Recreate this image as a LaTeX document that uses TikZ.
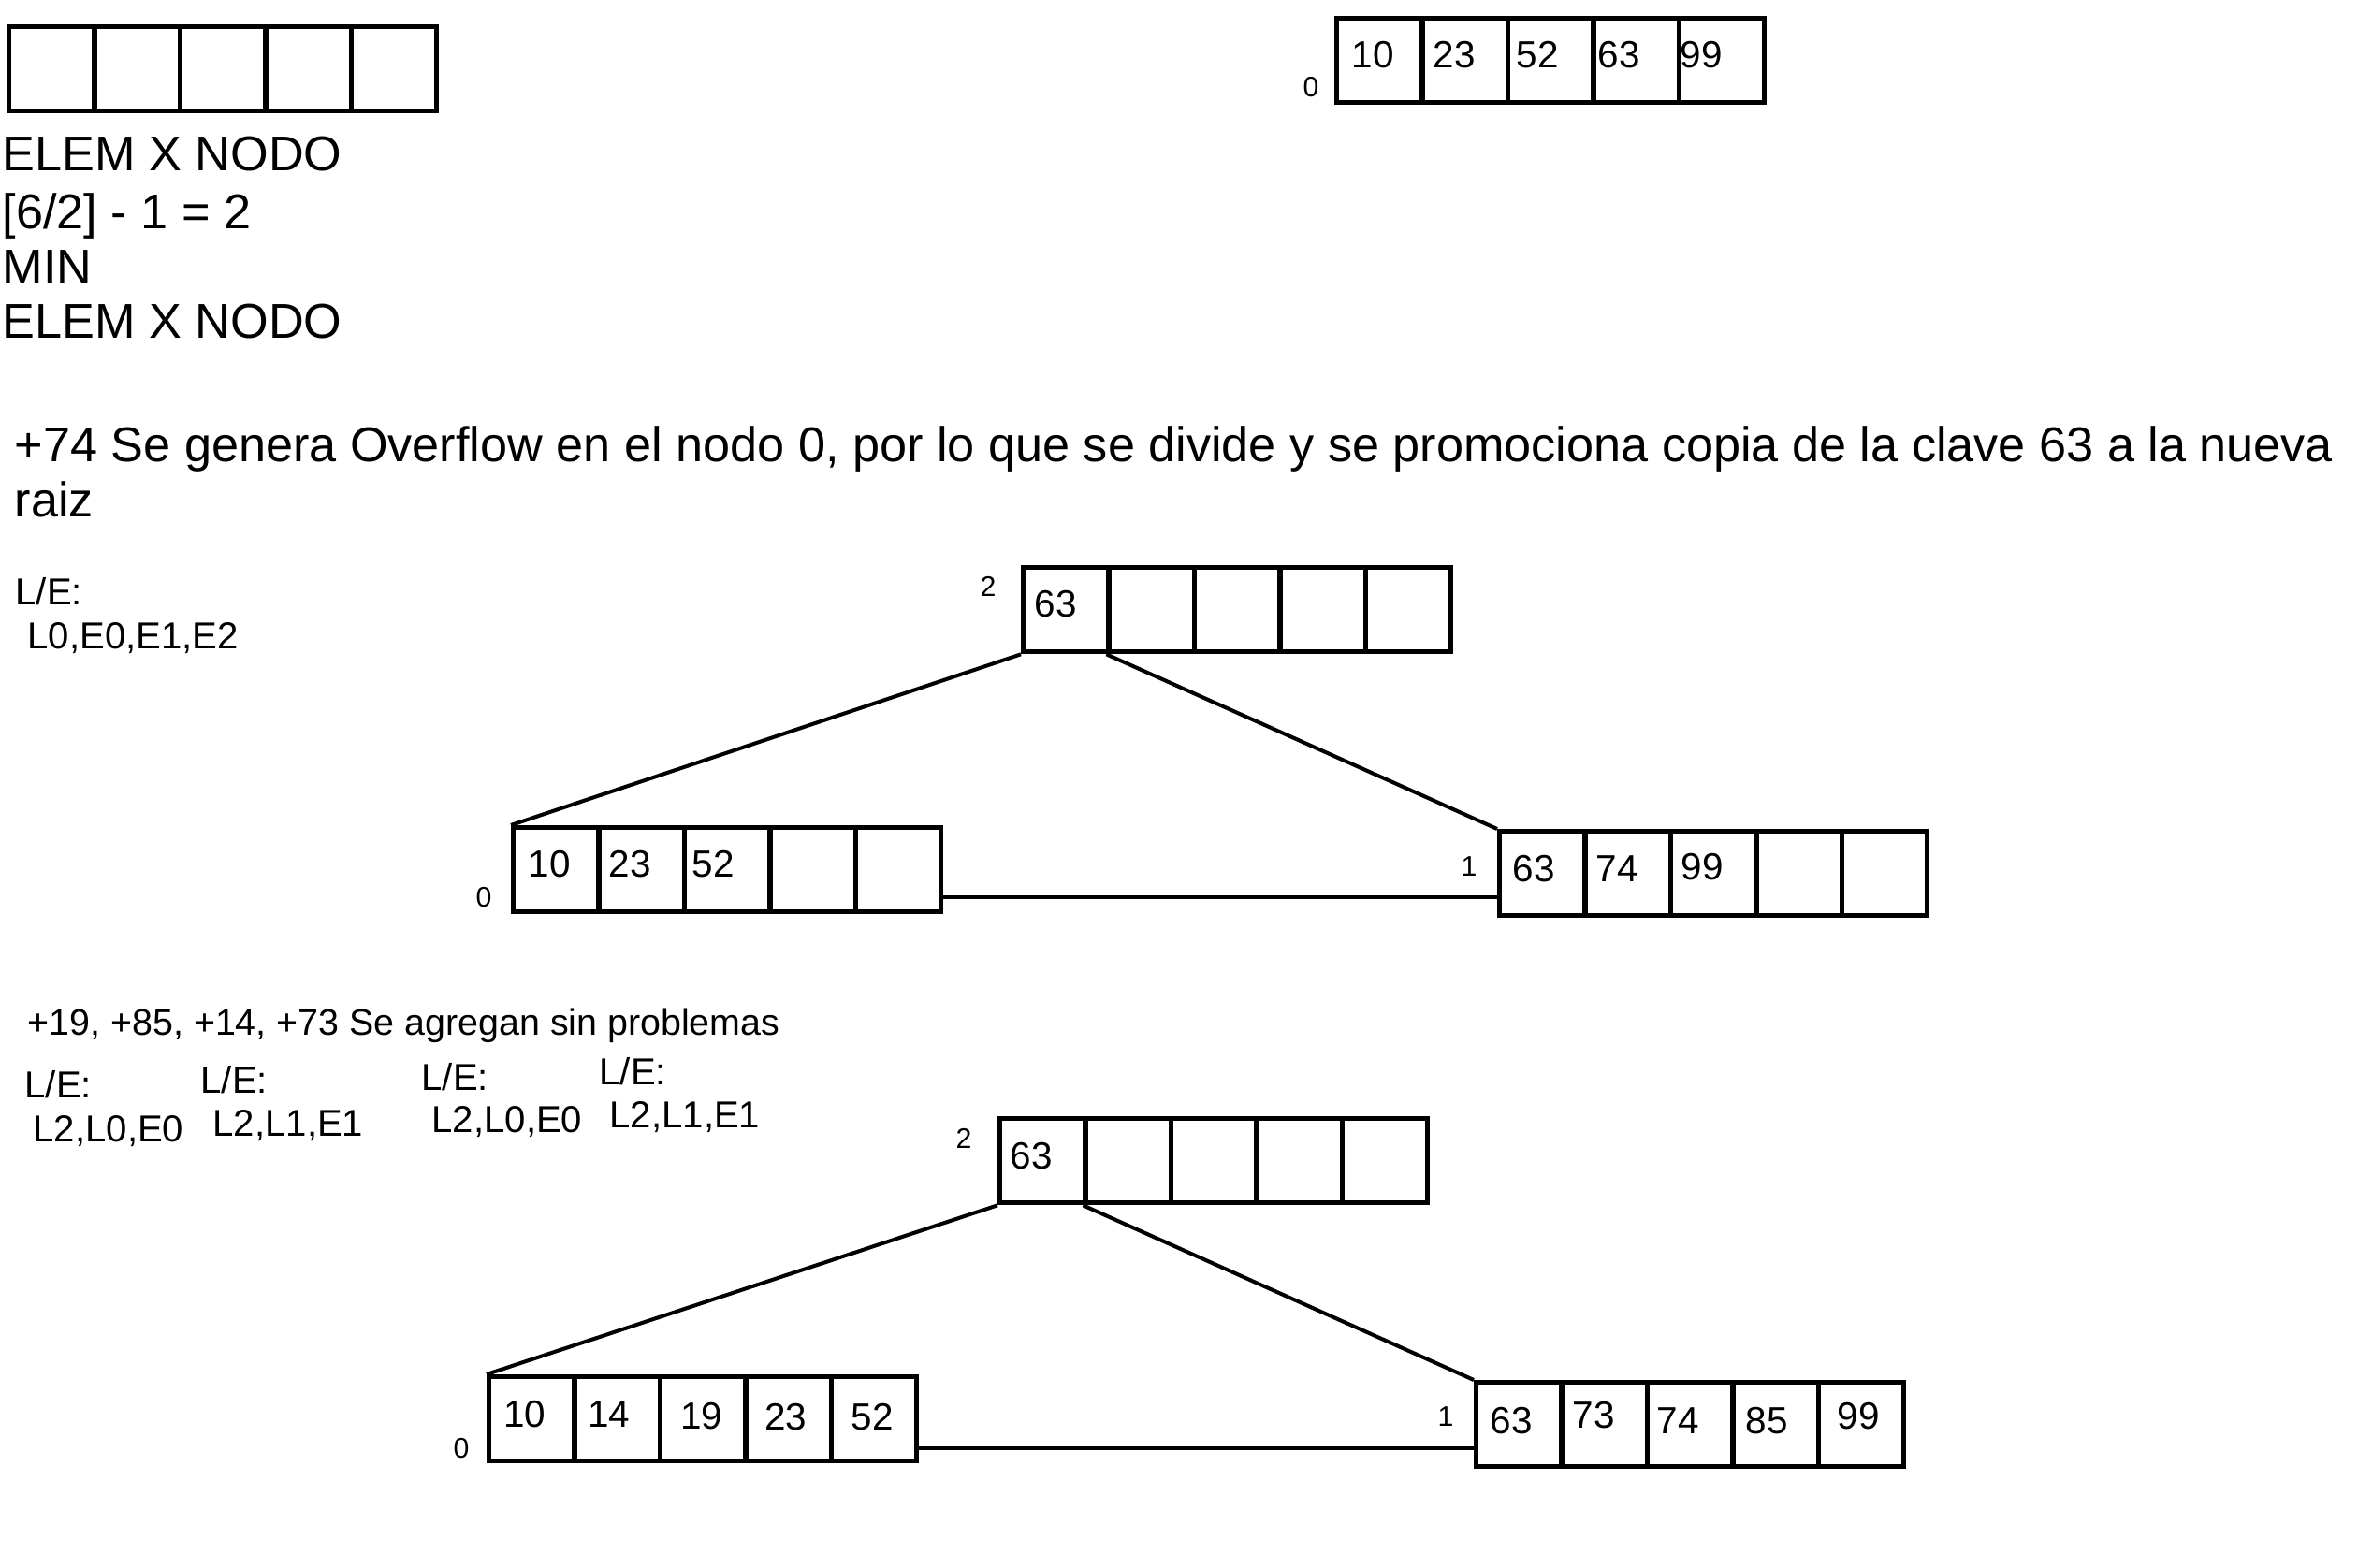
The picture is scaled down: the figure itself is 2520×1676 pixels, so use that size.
\documentclass[tikz,border=0pt]{standalone}
\usepackage{fontspec}
\setmainfont{Liberation Sans}
\usetikzlibrary{calc}
\tikzset{
  cell/.style={draw, line width=1.5pt, minimum width=0.914cm, minimum height=0.90cm, inner sep=0pt, anchor=north west},
  num/.style={font=\fontsize{11.5pt}{13pt}\selectfont, inner sep=0pt},
  big/.style={font=\fontsize{14.85pt}{17pt}\selectfont, inner sep=0pt, anchor=base west},
  le/.style={font=\fontsize{11.4pt}{14pt}\selectfont, inner sep=0pt, anchor=base west},
  msg/.style={font=\fontsize{11.2pt}{13pt}\selectfont, inner sep=0pt, anchor=base west},
  lbl/.style={font=\fontsize{8.6pt}{9pt}\selectfont, inner sep=0pt},
  conn/.style={line width=1.15pt},
}
\newcommand{\keyrow}[3]{\foreach \i in {1,...,5} {\node[cell] (#1-\i) at ({#2+(\i-1)*91.4},#3) {};}}
\begin{document}
\begin{tikzpicture}[x=0.01cm,y=-0.01cm]
\useasboundingbox (0,0) rectangle (2520,1676);
% top left empty node
\keyrow{e}{7}{26}
\node[big] (t1) at (2,183) {ELEM X NODO};
\node[big] (t2) at (2,245) {[6/2] - 1 = 2};
\node[big] (t3) at (2,304) {MIN};
\node[big] (t4) at (2,362) {ELEM X NODO};
% top right node 0
\keyrow{z}{1426}{17}
\node[lbl] (zl) at (1401,93) {0};
\node[num] (z1) at (1467,59) {10};
\node[num] (z2) at (1554,59) {23};
\node[num] (z3) at (1643,59) {52};
\node[num] (z4) at (1730,59) {63};
\node[num] (z5) at (1818,59) {99};
% message
\node[big] (m1) at (15,493) {+74 Se genera Overflow en el nodo 0, por lo que se divide y se promociona copia de la clave 63 a la nueva};
\node[big] (m2) at (15,552) {raiz};
\node[le] (le1) at (16,646) {L/E:};
\node[le] (le1b) at (29,693) {L0,E0,E1,E2};
% tree 1
\keyrow{r}{1091}{604}
\keyrow{a}{546}{882}
\keyrow{b}{1600}{886}
\node[lbl] (rl) at (1056,627) {2};
\node[lbl] (al) at (517,959) {0};
\node[lbl] (bl) at (1570,926) {1};
\node[num] (r1) at (1128,646) {63};
\node[num] (a1) at (587,924) {10};
\node[num] (a2) at (673,924) {23};
\node[num] (a3) at (762,924) {52};
\node[num] (b1) at (1639,929) {63};
\node[num] (b2) at (1728,929) {74};
\node[num] (b3) at (1819,927) {99};
\draw[conn] (r-1.south west) -- (a-1.north west);
\draw[conn] (r-2.south west) -- (b-1.north west);
\coordinate (h1) at ($(a-5.south east)+(0,-18)$);
\draw[conn] (h1) -- (h1 -| b-1.west);
% second message
\node[msg] (m3) at (29,1106) {+19, +85, +14, +73 Se agregan sin problemas};
\node[le] (g1a) at (26,1173) {L/E:};
\node[le] (g1b) at (35,1220) {L2,L0,E0};
\node[le] (g2a) at (214,1168) {L/E:};
\node[le] (g2b) at (227,1214) {L2,L1,E1};
\node[le] (g3a) at (450,1165) {L/E:};
\node[le] (g3b) at (461,1210) {L2,L0,E0};
\node[le] (g4a) at (640,1159) {L/E:};
\node[le] (g4b) at (651,1205) {L2,L1,E1};
% tree 2
\keyrow{s}{1066}{1193}
\keyrow{c}{520}{1469}
\keyrow{d}{1575}{1475}
\node[lbl] (sl) at (1030,1217) {2};
\node[lbl] (cl) at (493,1548) {0};
\node[lbl] (dl) at (1545,1514) {1};
\node[num] (s1) at (1102,1236) {63};
\node[num] (c1) at (561,1512) {10};
\node[num] (c2) at (651,1512) {14};
\node[num] (c3) at (750,1514) {19};
\node[num] (c4) at (840,1515) {23};
\node[num] (c5) at (932,1515) {52};
\node[num] (d1) at (1615,1519) {63};
\node[num] (d2) at (1703,1513) {73};
\node[num] (d3) at (1793,1519) {74};
\node[num] (d4) at (1888,1519) {85};
\node[num] (d5) at (1986,1514) {99};
\draw[conn] (s-1.south west) -- (c-1.north west);
\draw[conn] (s-2.south west) -- (d-1.north west);
\coordinate (h2) at ($(c-5.south east)+(0,-16)$);
\draw[conn] (h2) -- (h2 -| d-1.west);
\end{tikzpicture}
\end{document}
